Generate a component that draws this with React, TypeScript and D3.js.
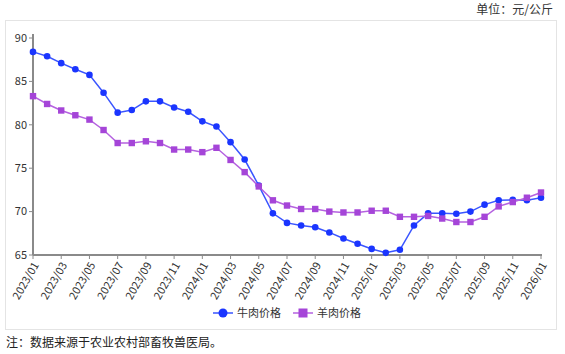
import React from 'react';
import * as d3 from 'd3';

// monthly labels 2023/01 .. 2026/01
const months = [
  '2023/01', '2023/02', '2023/03', '2023/04', '2023/05', '2023/06', '2023/07', '2023/08', '2023/09', '2023/10', '2023/11', '2023/12',
  '2024/01', '2024/02', '2024/03', '2024/04', '2024/05', '2024/06', '2024/07', '2024/08', '2024/09', '2024/10', '2024/11', '2024/12',
  '2025/01', '2025/02', '2025/03', '2025/04', '2025/05', '2025/06', '2025/07', '2025/08', '2025/09', '2025/10', '2025/11', '2025/12',
  '2026/01'
];

const beef = [
  88.4, 87.9, 87.1, 86.4, 85.75, 83.7, 81.4, 81.7, 82.7, 82.7, 82.0, 81.5,
  80.4, 79.8, 78.0, 76.0, 73.0, 69.8, 68.7, 68.4, 68.2, 67.6, 66.9, 66.3,
  65.7, 65.25, 65.6, 68.4, 69.8, 69.8, 69.75, 70.0, 70.8, 71.3, 71.35, 71.3,
  71.6
];

const mutton = [
  83.3, 82.4, 81.65, 81.1, 80.6, 79.4, 77.9, 77.9, 78.1, 77.9, 77.15, 77.15,
  76.85, 77.35, 75.95, 74.55, 72.9, 71.3, 70.7, 70.3, 70.3, 70.0, 69.9, 69.9,
  70.1, 70.1, 69.4, 69.4, 69.5, 69.2, 68.8, 68.8, 69.4, 70.6, 71.1, 71.6,
  72.2
];

const yTicks = [65, 70, 75, 80, 85, 90];
const seriesNames = ['牛肉价格', '羊肉价格'];

const W = 565, H = 354;
const left = 33, right = 541, top = 38, bottom = 255;
const BLUE = '#1a35ff', BLUE_LINE = '#3a55ff';
const PURPLE = '#a545d8', PURPLE_LINE = '#b562e0';
const FONT = '"Noto Sans CJK SC", "Noto Sans", sans-serif';

export default function App() {
  const x = d3.scalePoint<string>().domain(months).range([left, right]);
  const y = d3.scaleLinear().domain([65, 90]).range([bottom, top]);
  const line = d3.line<number>().x((d, i) => x(months[i]) as number).y(d => y(d));
  const xTicks = months.filter((m, i) => i % 2 === 0);

  return (
    <svg width={W} height={H} style={{ position: 'absolute', left: 0, top: 0 }} fontFamily={FONT}>
      <rect x={0} y={0} width={W} height={H} fill="#fff" />
      <text x={553} y={14} textAnchor="end" fontSize={12} fill="#333">单位：元/公斤</text>
      <rect x={5.5} y={20.5} width={551} height={309} fill="none" stroke="#e4e4e4" strokeWidth={1} />

      {/* axes */}
      <line x1={left} y1={top - 4} x2={left} y2={bottom} stroke="#8a8a8a" strokeWidth={2} />
      <line x1={left} y1={bottom} x2={right + 1} y2={bottom} stroke="#8a8a8a" strokeWidth={2} />
      {yTicks.map(t => (
        <g key={t}>
          <line x1={left - 4} x2={left} y1={y(t)} y2={y(t)} stroke="#8a8a8a" strokeWidth={1} />
          <text x={left - 6} y={y(t)} dy="0.35em" textAnchor="end" fontSize={11} fill="#333">{t}</text>
        </g>
      ))}
      {xTicks.map(m => {
        const px = x(m) as number;
        return (
          <g key={m}>
            <line x1={px} x2={px} y1={bottom} y2={bottom + 4} stroke="#8a8a8a" strokeWidth={1} />
            <text
              transform={`translate(${px + 3},${bottom + 8}) rotate(-60)`}
              textAnchor="end"
              dy="0.35em"
              fontSize={11}
              fill="#333"
            >
              {m}
            </text>
          </g>
        );
      })}

      {/* series */}
      <path d={line(beef) || ''} fill="none" stroke={BLUE_LINE} strokeWidth={1.5} />
      {beef.map((v, i) => (
        <circle key={i} cx={x(months[i])} cy={y(v)} r={3.3} fill={BLUE} />
      ))}
      <path d={line(mutton) || ''} fill="none" stroke={PURPLE_LINE} strokeWidth={1.5} />
      {mutton.map((v, i) => (
        <rect key={i} x={(x(months[i]) as number) - 3.2} y={y(v) - 3.2} width={6.4} height={6.4} fill={PURPLE} />
      ))}

      {/* legend */}
      <g transform="translate(213,313)">
        <line x1={0} x2={20} y1={0} y2={0} stroke={BLUE_LINE} strokeWidth={1.5} />
        <circle cx={10} cy={0} r={4.5} fill={BLUE} />
        <text x={24} y={0} dy="0.35em" fontSize={11} fill="#333">{seriesNames[0]}</text>
        <line x1={80} x2={100} y1={0} y2={0} stroke={PURPLE_LINE} strokeWidth={1.5} />
        <rect x={85.5} y={-4.5} width={9} height={9} fill={PURPLE} />
        <text x={104} y={0} dy="0.35em" fontSize={11} fill="#333">{seriesNames[1]}</text>
      </g>

      <text x={6} y={347} fontSize={12} fill="#222">注：数据来源于农业农村部畜牧兽医局。</text>
    </svg>
  );
}
